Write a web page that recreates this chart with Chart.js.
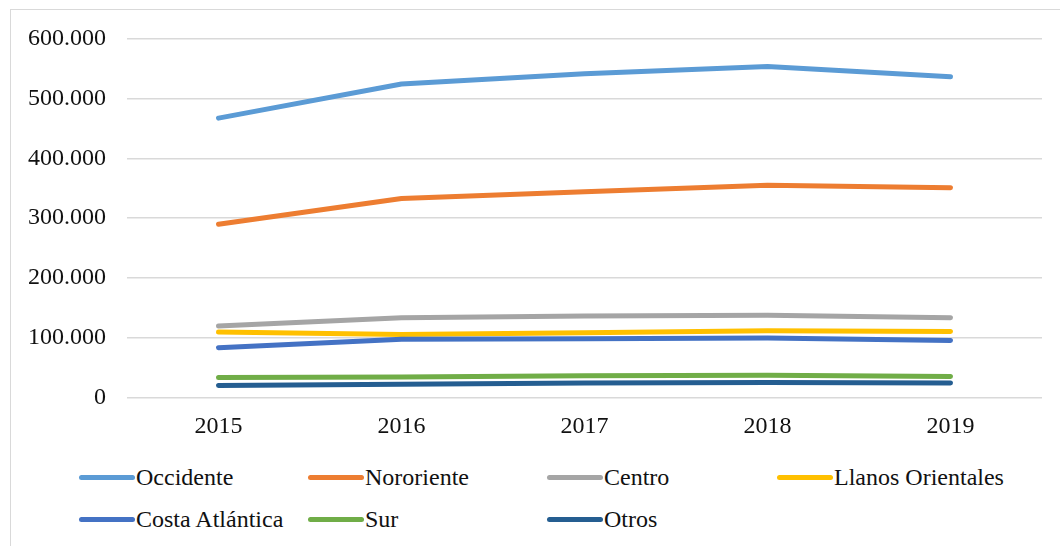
<!DOCTYPE html>
<html>
<head>
<meta charset="utf-8">
<script src="https://cdn.jsdelivr.net/npm/chart.js@4/dist/chart.umd.min.js"></script>
<style>
  html, body { margin: 0; padding: 0; background: #fff; }
  body { width: 1060px; height: 546px; position: relative; overflow: hidden; font-family: "Liberation Serif", "Times New Roman", serif; }
  .frame { position: absolute; left: 10px; top: 9px; width: 1100px; height: 600px; border: 1px solid #d9d9d9; box-sizing: border-box; }
  .chart-box { position: absolute; left: 11px; top: 3px; width: 1049px; height: 447px; }
  #legend { position: absolute; left: 79px; top: 462px; display: grid; grid-template-columns: 229px 239px 230px 240px; row-gap: 12px; }
  .item { display: flex; align-items: center; height: 30px; font-size: 24px; color: #111; white-space: nowrap; }
  .swatch { width: 56px; height: 5px; border-radius: 3px; margin-right: 1px; }
</style>
</head>
<body>
<div class="frame"></div>
<div class="chart-box"><canvas id="chart"></canvas></div>
<div id="legend"></div>
<script>
// years on the x axis
const years = ["2015", "2016", "2017", "2018", "2019"];

// one array per region
const occidente = [467000, 524000, 541000, 553000, 536000];
const nororiente = [290000, 333000, 344000, 355000, 351000];
const centro = [120000, 134000, 137000, 138000, 134000];
const llanosOrientales = [110000, 106000, 109000, 112000, 111000];
const costaAtlantica = [84000, 98000, 99000, 100000, 96000];
const sur = [34000, 35000, 37000, 38000, 36000];
const otros = [21000, 23000, 25000, 26000, 25000];

const seriesNames = ["Occidente", "Nororiente", "Centro", "Llanos Orientales", "Costa Atlántica", "Sur", "Otros"];
const seriesValues = [occidente, nororiente, centro, llanosOrientales, costaAtlantica, sur, otros];
const seriesColors = ["#5B9BD5", "#ED7D31", "#A5A5A5", "#FFC000", "#4472C4", "#70AD47", "#255E91"];

const fontFamily = '"Liberation Serif", "Times New Roman", serif';

const datasets = seriesNames.map((name, i) => ({
  label: name,
  data: seriesValues[i],
  borderColor: seriesColors[i],
  backgroundColor: seriesColors[i],
  borderWidth: 5,
  borderCapStyle: 'round',
  borderJoinStyle: 'round',
  pointRadius: 0,
  tension: 0,
  fill: false,
  order: seriesNames.length - 1 - i // later series drawn on top, like the original
}));

const chart = new Chart(document.getElementById('chart'), {
  type: 'line',
  data: { labels: years, datasets: datasets },
  options: {
    responsive: true,
    maintainAspectRatio: false,
    animation: false,
    // top room comes from the y tick label overflow (half label + tick padding)
    layout: { padding: { top: 0, right: 18, bottom: 0, left: 0 } },
    plugins: {
      legend: { display: false },
      tooltip: { enabled: false }
    },
    scales: {
      x: {
        offset: true,
        grid: { display: false },
        border: { display: false },
        ticks: { color: '#111', font: { family: fontFamily, size: 24 }, padding: 6 },
        afterFit: (s) => { s.height = 52; }
      },
      y: {
        min: 0,
        max: 600000,
        ticks: {
          stepSize: 100000,
          color: '#111',
          padding: 21,
          font: { family: fontFamily, size: 24 },
          callback: (v) => v === 0 ? '0' : v.toLocaleString('de-DE')
        },
        grid: { color: '#d9d9d9', lineWidth: 1.5, drawTicks: false },
        border: { display: false },
        afterFit: (s) => { s.width = 116; }
      }
    }
  }
});

// HTML legend in four columns, built from the datasets
const legendEl = document.getElementById('legend');
chart.data.datasets.forEach(ds => {
  const item = document.createElement('div');
  item.className = 'item';
  const sw = document.createElement('span');
  sw.className = 'swatch';
  sw.style.background = ds.borderColor;
  const txt = document.createElement('span');
  txt.textContent = ds.label;
  item.appendChild(sw);
  item.appendChild(txt);
  legendEl.appendChild(item);
});
</script>
</body>
</html>
